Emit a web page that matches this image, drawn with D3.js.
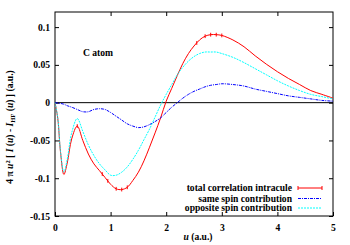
<!DOCTYPE html>
<html>
<head>
<meta charset="utf-8">
<script src="https://cdn.jsdelivr.net/npm/d3@7"></script>
<style>
  body { margin: 0; background: #fff; }
  text { font-family: "Liberation Serif", "DejaVu Serif", serif; font-weight: bold; }
</style>
</head>
<body>
<svg width="350" height="245"></svg>
<script>
// u grid (a.u.)
const uVals = [0, 0.05, 0.1, 0.16, 0.22, 0.3, 0.4, 0.5, 0.6, 0.7, 0.8, 0.9, 1.0, 1.1, 1.2, 1.3, 1.4, 1.5, 1.6, 1.7, 1.8, 1.9, 2.0, 2.1, 2.2, 2.3, 2.4, 2.5, 2.6, 2.7, 2.8, 2.9, 3.0, 3.2, 3.4, 3.6, 3.8, 4.0, 4.2, 4.4, 4.6, 4.8, 5.0];
// total correlation intracule
const totalVals = [0, -0.021, -0.066, -0.095, -0.08, -0.048, -0.031, -0.05, -0.068, -0.081, -0.09, -0.099, -0.108, -0.114, -0.115, -0.112, -0.103, -0.092, -0.077, -0.059, -0.040, -0.020, 0.002, 0.019, 0.036, 0.052, 0.065, 0.075, 0.083, 0.088, 0.090, 0.090, 0.089, 0.083, 0.074, 0.062, 0.051, 0.041, 0.032, 0.024, 0.016, 0.011, 0.006];
// same spin contribution
const sameVals = [0, -0.0005, -0.001, -0.002, -0.004, -0.006, -0.009, -0.012, -0.012, -0.009, -0.008, -0.009, -0.013, -0.018, -0.023, -0.028, -0.031, -0.033, -0.032, -0.029, -0.025, -0.02, -0.013, -0.006, 0.0, 0.006, 0.011, 0.015, 0.018, 0.021, 0.023, 0.024, 0.025, 0.024, 0.022, 0.018, 0.015, 0.012, 0.009, 0.007, 0.005, 0.003, 0.002];
// opposite spin contribution
const oppVals = [0, -0.02, -0.065, -0.092, -0.075, -0.04, -0.021, -0.038, -0.056, -0.07, -0.081, -0.089, -0.096, -0.096, -0.092, -0.085, -0.075, -0.063, -0.049, -0.035, -0.019, -0.003, 0.011, 0.024, 0.037, 0.047, 0.055, 0.061, 0.065, 0.067, 0.067, 0.067, 0.065, 0.060, 0.053, 0.045, 0.037, 0.029, 0.022, 0.016, 0.011, 0.008, 0.005];
// points where the total curve shows its small error bars
const errU = [0.4, 0.85, 0.95, 1.1, 1.2, 1.3, 2.55, 2.7, 2.8, 2.9, 3.0];
const errHalf = 0.0025;

const xTicks = [0, 1, 2, 3, 4, 5];
const yTicks = [-0.15, -0.1, -0.05, 0, 0.05, 0.1];

const seriesNames = ["total correlation intracule", "same spin contribution", "opposite spin contribution"];
const seriesColors = ["#ff0000", "#0000ff", "#00ffff"];
const seriesDash = [null, "3,1,1,1", "2,1"];

const fs = 9.6;

const svg = d3.select("svg"),
  margin = { top: 12, right: 17, bottom: 29, left: 55 },
  width = 350 - margin.left - margin.right,
  height = 245 - margin.top - margin.bottom;

const x = d3.scaleLinear().domain([0, 5]).range([0, width]);
const y = d3.scaleLinear().domain([-0.15, 0.12]).range([height, 0]);

const g = svg.append("g")
  .attr("transform", "translate(" + margin.left + "," + margin.top + ")");

// axes with inward ticks on all four sides
const fmt = d => d === 0 ? "0" : String(+d.toFixed(2));
g.append("g").attr("transform", "translate(0," + height + ")")
  .call(d3.axisBottom(x).tickValues(xTicks).tickSizeInner(-4).tickSizeOuter(0).tickPadding(8).tickFormat(d3.format("d")));
g.append("g").call(d3.axisTop(x).tickValues(xTicks.slice(1, -1)).tickSizeInner(-4).tickSizeOuter(0).tickFormat(""));
g.append("g")
  .call(d3.axisLeft(y).tickValues(yTicks).tickSizeInner(-4).tickSizeOuter(0).tickPadding(5).tickFormat(fmt));
g.append("g").attr("transform", "translate(" + width + ",0)")
  .call(d3.axisRight(y).tickValues(yTicks).tickSizeInner(-4).tickSizeOuter(0).tickFormat(""));

g.selectAll(".domain").remove();
g.selectAll(".tick line").attr("stroke", "#000");
g.selectAll(".tick text").attr("font-size", fs).attr("fill", "#000")
  .style("font-family", "'Liberation Serif', serif").style("font-weight", "bold");

g.append("rect").attr("width", width).attr("height", height)
  .attr("fill", "none").attr("stroke", "#000").attr("stroke-width", 1);

// zero line
g.append("line").attr("x1", 0).attr("x2", width).attr("y1", y(0)).attr("y2", y(0))
  .attr("stroke", "#000").attr("stroke-width", 1);

const line = d3.line().x((d, i) => x(uVals[i])).y(d => y(d)).curve(d3.curveCatmullRom);

[totalVals, sameVals, oppVals].forEach((vals, k) => {
  g.append("path").datum(vals)
    .attr("d", line)
    .attr("fill", "none")
    .attr("stroke", seriesColors[k])
    .attr("stroke-width", 1)
    .attr("stroke-dasharray", seriesDash[k]);
});

// small error bars on total
const totInterp = u => {
  const i = d3.bisectLeft(uVals, u);
  if (uVals[i] === u) return totalVals[i];
  const t = (u - uVals[i - 1]) / (uVals[i] - uVals[i - 1]);
  return totalVals[i - 1] + t * (totalVals[i] - totalVals[i - 1]);
};
g.selectAll(".err").data(errU).enter().append("line")
  .attr("class", "err")
  .attr("x1", d => x(d)).attr("x2", d => x(d))
  .attr("y1", d => y(totInterp(d) - errHalf)).attr("y2", d => y(totInterp(d) + errHalf))
  .attr("stroke", "#ff0000").attr("stroke-width", 1);

// legend
const legY = [176, 186.5, 196];
seriesNames.forEach((name, k) => {
  g.append("text").attr("x", 237).attr("y", legY[k] + 3)
    .attr("text-anchor", "end").attr("font-size", fs).text(name);
  g.append("line").attr("x1", 243).attr("x2", 267).attr("y1", legY[k]).attr("y2", legY[k])
    .attr("stroke", seriesColors[k]).attr("stroke-width", 1)
    .attr("stroke-dasharray", seriesDash[k]);
  if (k === 0) {
    [243, 267].forEach(xx => g.append("line").attr("x1", xx).attr("x2", xx)
      .attr("y1", legY[k] - 2).attr("y2", legY[k] + 2).attr("stroke", seriesColors[k]));
  }
});

// annotation
g.append("text").attr("x", 28).attr("y", 44).attr("font-size", fs).text("C atom");

// axis labels
svg.append("text").attr("x", 198).attr("y", 240).attr("text-anchor", "middle").attr("font-size", fs)
  .html("<tspan font-style='italic'>u</tspan> (a.u.)");

const yl = svg.append("text").attr("transform", "translate(13,127) rotate(-90)")
  .attr("text-anchor", "middle").attr("font-size", fs);
yl.append("tspan").text("4 π ");
yl.append("tspan").attr("font-style", "italic").text("u");
yl.append("tspan").attr("dy", -3).attr("font-size", 6.5).text("2");
yl.append("tspan").attr("dy", 3).text(" [ ");
yl.append("tspan").attr("font-style", "italic").text("I");
yl.append("tspan").text(" (");
yl.append("tspan").attr("font-style", "italic").text("u");
yl.append("tspan").text(") - ");
yl.append("tspan").attr("font-style", "italic").text("I");
yl.append("tspan").attr("dy", 2).attr("font-size", 6.5).text("HF");
yl.append("tspan").attr("dy", -2).text(" (");
yl.append("tspan").attr("font-style", "italic").text("u");
yl.append("tspan").text(") ] (a.u.)");
</script>
</body>
</html>
